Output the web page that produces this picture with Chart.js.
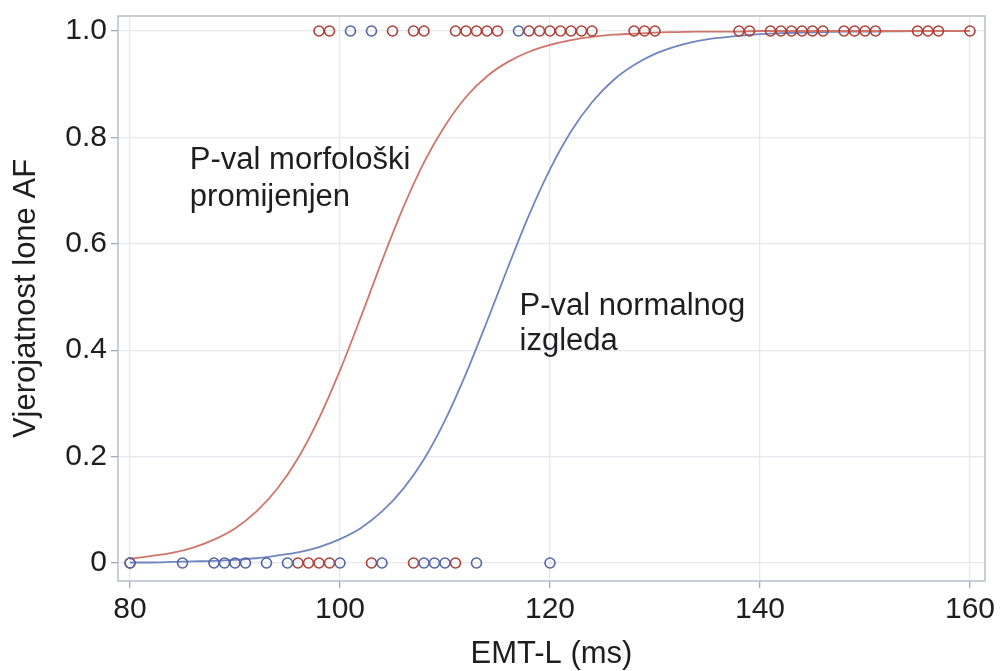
<!DOCTYPE html>
<html lang="hr">
  <head>
    <meta charset="UTF-8" />
    <title>Vjerojatnost lone AF</title>
    <style>
      html, body { margin: 0; padding: 0; background: #fff; }
      #wrap { width: 1001px; height: 671px; }
    </style>
  </head>
  <body>
    <div id="wrap"><canvas id="myChart"></canvas></div>

    <script src="https://cdn.jsdelivr.net/npm/chart.js"></script>
    <script>
      // curve, x in ms
      const curveX = [80, 82, 84, 86, 88, 90, 92, 94, 96, 98, 100, 102, 104, 106, 108, 110, 112, 114, 116, 118,
                      120, 122, 124, 126, 128, 130, 132, 134, 136, 138, 140, 142, 144, 146, 148, 150, 155, 160];
      const redCurve = [0.008, 0.013, 0.019, 0.029, 0.044, 0.065, 0.096, 0.139, 0.197, 0.272, 0.362, 0.463, 0.568,
                        0.667, 0.753, 0.822, 0.876, 0.915, 0.942, 0.961, 0.974, 0.983, 0.989, 0.993, 0.995, 0.997,
                        0.998, 0.999, 0.999, 0.999, 1.0, 1.0, 1.0, 1.0, 1.0, 1.0, 1.0, 1.0];
      const blueCurve = [0.001, 0.001, 0.002, 0.003, 0.004, 0.006, 0.009, 0.014, 0.020, 0.030, 0.045, 0.066, 0.097,
                         0.139, 0.195, 0.268, 0.356, 0.454, 0.556, 0.654, 0.740, 0.811, 0.866, 0.907, 0.936, 0.957,
                         0.971, 0.981, 0.987, 0.991, 0.994, 0.996, 0.997, 0.998, 0.999, 0.999, 1.0, 1.0];

      // observed cases (AF = 1 on top row, 0 on bottom row)
      const redTop = [98, 99, 105, 107, 108, 111, 112, 113, 114, 115, 118, 119, 120, 121, 122, 123, 124,
                      128, 129, 130, 138, 139, 141, 142, 143, 144, 145, 146, 148, 149, 150, 151, 155, 156, 157, 160];
      const blueTop = [101, 103, 117];
      const redBottom = [80, 96, 97, 98, 99, 103, 107, 111];
      const blueBottom = [80, 85, 88, 89, 90, 91, 93, 95, 100, 104, 108, 109, 110, 113, 120];

      const xTicks = [80, 100, 120, 140, 160];
      const yTicks = [0, 0.2, 0.4, 0.6, 0.8, 1.0];
      const yTickLabels = ['0', '0.2', '0.4', '0.6', '0.8', '1.0'];

      const RED_LINE = '#d0756a', RED_DOT = '#ad4038';
      const BLUE_LINE = '#7186c0', BLUE_DOT = '#5265a5';

      const pts = (xs, ys) => xs.map((x, i) => ({ x: x, y: ys[i] }));
      const row = (xs, y) => xs.map(x => ({ x: x, y: y }));

      function dots(data, color) {
        return {
          type: 'scatter', data: data, showLine: false,
          pointStyle: 'circle', pointRadius: 5, pointBorderWidth: 1.6,
          pointBorderColor: color, pointBackgroundColor: 'rgba(0,0,0,0)',
          pointHoverRadius: 5, order: 1
        };
      }
      function curve(data, color) {
        return {
          type: 'line', data: data, borderColor: color, borderWidth: 1.8,
          pointRadius: 0, cubicInterpolationMode: 'monotone', fill: false, order: 2
        };
      }

      // frame round the plot + the two text labels
      const extras = {
        id: 'extras',
        beforeDatasetsDraw(chart) {
          const a = chart.chartArea, c = chart.ctx;
          c.save();
          c.strokeStyle = '#b9bdc9';
          c.lineWidth = 1.5;
          c.strokeRect(a.left, a.top, a.right - a.left, a.bottom - a.top);
          c.restore();
        },
        afterDatasetsDraw(chart) {
          const xs = chart.scales.x, ys = chart.scales.y, c = chart.ctx;
          c.save();
          c.fillStyle = '#1e1e1e';
          c.font = '31px "Liberation Sans", Arial, sans-serif';
          c.textBaseline = 'middle';
          c.fillText('P-val morfološki', xs.getPixelForValue(85.7), ys.getPixelForValue(0.756));
          c.fillText('promijenjen', xs.getPixelForValue(85.7), ys.getPixelForValue(0.688));
          c.fillText('P-val normalnog', xs.getPixelForValue(117.1), ys.getPixelForValue(0.483));
          c.fillText('izgleda', xs.getPixelForValue(117.1), ys.getPixelForValue(0.417));
          c.restore();
        }
      };

      const ctx = document.getElementById('myChart');
      Chart.defaults.font.family = '"Liberation Sans", Arial, sans-serif';
      Chart.defaults.color = '#1e1e1e';

      const myChart = new Chart(ctx, {
        type: 'scatter',
        data: {
          datasets: [
            curve(pts(curveX, redCurve), RED_LINE),
            curve(pts(curveX, blueCurve), BLUE_LINE),
            dots(row(blueTop, 1), BLUE_DOT),
            dots(row(redTop, 1), RED_DOT),
            dots(row(blueBottom, 0), BLUE_DOT),
            dots(row(redBottom, 0), RED_DOT)
          ]
        },
        plugins: [extras],
        options: {
          responsive: true,
          maintainAspectRatio: false,
          animation: false,
          layout: { padding: { top: 16, right: 16, left: 0, bottom: 0 } },
          plugins: { legend: { display: false }, tooltip: { enabled: false } },
          scales: {
            x: {
              type: 'linear', min: 78.857, max: 161.43,
              afterBuildTicks: axis => { axis.ticks = xTicks.map(v => ({ value: v })); },
              afterFit: axis => { axis.height = 90; axis.paddingLeft = 0; axis.paddingRight = 0; },
              border: { display: false },
              grid: { color: '#e6e8ee', lineWidth: 1.3, tickColor: '#a3a8b5', tickLength: 7 },
              ticks: { font: { size: 30 }, color: '#1e1e1e', padding: 4, maxRotation: 0 },
              title: { display: true, text: 'EMT-L (ms)', font: { size: 31 }, color: '#1e1e1e', padding: { top: 0, bottom: -2 } }
            },
            y: {
              type: 'linear', min: -0.0338, max: 1.0282,
              afterBuildTicks: axis => { axis.ticks = yTicks.map(v => ({ value: v })); },
              afterFit: axis => { axis.width = 118; axis.paddingTop = 0; axis.paddingBottom = 0; },
              border: { display: false },
              grid: { color: '#e6e8ee', lineWidth: 1.3, tickColor: '#a3a8b5', tickLength: 7 },
              ticks: {
                font: { size: 30 }, color: '#1e1e1e', padding: 4,
                callback: v => { const i = yTicks.findIndex(t => Math.abs(t - v) < 1e-9); return i >= 0 ? yTickLabels[i] : ''; }
              },
              title: { display: true, text: 'Vjerojatnost lone AF', font: { size: 31 }, color: '#1e1e1e', padding: { top: 8, bottom: 0 } }
            }
          }
        }
      });
    </script>
  </body>
</html>
